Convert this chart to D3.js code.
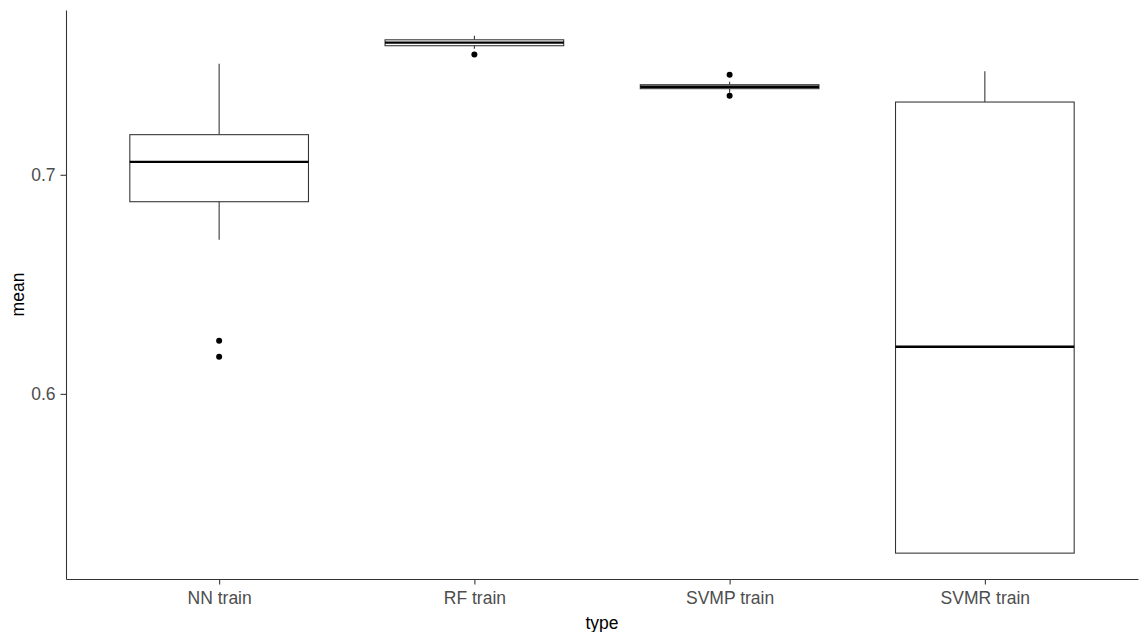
<!DOCTYPE html>
<html>
<head>
<meta charset="utf-8">
<script src="https://cdn.jsdelivr.net/npm/d3@7"></script>
<style>
  html, body { margin: 0; padding: 0; background: #fff; }
  svg { display: block; font-family: "Liberation Sans", Arial, sans-serif; }
</style>
</head>
<body>
<svg id="chart" width="1139" height="632"></svg>
<script>
// Model types on the x axis
const categories = ["NN train", "RF train", "SVMP train", "SVMR train"];
// Box summaries per type: lower whisker, Q1, median, Q3, upper whisker
const whiskerLow = [0.6703, 0.7575, 0.7374, 0.5273];
const q1 = [0.6877, 0.7589, 0.7393, 0.5273];
const median = [0.7059, 0.7603, 0.7402, 0.6215];
const q3 = [0.7183, 0.7616, 0.7411, 0.7332];
const whiskerHigh = [0.7507, 0.7634, 0.7425, 0.7472];
// Points beyond the whiskers
const outlierType = ["NN train", "NN train", "RF train", "SVMP train", "SVMP train"];
const outlierValue = [0.6242, 0.6169, 0.7549, 0.7457, 0.7361];
// Y axis ticks
const yTicks = [0.6, 0.7];

const svg = d3.select("#chart");
const margin = { top: 10, right: 1, bottom: 53, left: 66 };
const W = 1139, H = 632;
const innerW = W - margin.left - margin.right;
const innerH = H - margin.top - margin.bottom;

const boxes = categories.map((c, i) => ({
  type: c, lo: whiskerLow[i], q1: q1[i], med: median[i], q3: q3[i], hi: whiskerHigh[i]
}));
const outliers = outlierType.map((t, i) => ({ type: t, value: outlierValue[i] }));

// Continuous y range expanded by 5% on each side
const allVals = whiskerLow.concat(whiskerHigh, outlierValue);
const yMin = d3.min(allVals), yMax = d3.max(allVals);
const pad = (yMax - yMin) * 0.05;
const y = d3.scaleLinear().domain([yMin - pad, yMax + pad]).range([innerH, 0]);

// Discrete x with 0.6 unit expansion on both ends
const x = d3.scalePoint().domain(categories).range([0, innerW]).padding(0.6);
const step = x.step();
const boxW = step * 0.7;

const g = svg.append("g").attr("transform", `translate(${margin.left},${margin.top})`);

// Whiskers
const lineCol = "#333333";
g.selectAll(".whisker-hi").data(boxes).join("line")
  .attr("x1", d => x(d.type)).attr("x2", d => x(d.type))
  .attr("y1", d => y(d.q3)).attr("y2", d => y(d.hi))
  .attr("stroke", lineCol).attr("stroke-width", 1.07);
g.selectAll(".whisker-lo").data(boxes).join("line")
  .attr("x1", d => x(d.type)).attr("x2", d => x(d.type))
  .attr("y1", d => y(d.q1)).attr("y2", d => y(d.lo))
  .attr("stroke", lineCol).attr("stroke-width", 1.07);

// Boxes
g.selectAll(".box").data(boxes).join("rect")
  .attr("x", d => x(d.type) - boxW / 2)
  .attr("width", boxW)
  .attr("y", d => y(d.q3))
  .attr("height", d => y(d.q1) - y(d.q3))
  .attr("fill", "#fff").attr("stroke", lineCol).attr("stroke-width", 1.07);

// Medians
g.selectAll(".median").data(boxes).join("line")
  .attr("x1", d => x(d.type) - boxW / 2).attr("x2", d => x(d.type) + boxW / 2)
  .attr("y1", d => y(d.med)).attr("y2", d => y(d.med))
  .attr("stroke", "#000").attr("stroke-width", 2.4);

// Outliers
g.selectAll(".outlier").data(outliers).join("circle")
  .attr("cx", d => x(d.type)).attr("cy", d => y(d.value))
  .attr("r", 3).attr("fill", "#000");

// Axes
const xAxis = g.append("g").attr("transform", `translate(0,${innerH})`)
  .call(d3.axisBottom(x).tickSize(5.5).tickPadding(7.5).tickSizeOuter(0));
const yAxis = g.append("g")
  .call(d3.axisLeft(y).tickValues(yTicks).tickFormat(d3.format(".1f")).tickSize(5.5).tickPadding(5).tickSizeOuter(0));

[xAxis, yAxis].forEach(a => {
  a.select(".domain").attr("stroke", "#333").attr("stroke-width", 1.07);
  a.selectAll(".tick line").attr("stroke", "#333").attr("stroke-width", 1.07);
  a.selectAll(".tick text").attr("fill", "#4d4d4d").style("font-size", "17.5px")
    .style("font-family", "'Liberation Sans', Arial, sans-serif");
});

// Axis titles
svg.append("text")
  .attr("x", margin.left + innerW / 2).attr("y", 629)
  .attr("text-anchor", "middle").style("font-size", "17.5px").attr("fill", "#000")
  .text("type");
svg.append("text")
  .attr("transform", `translate(23.5,${margin.top + innerH / 2}) rotate(-90)`)
  .attr("text-anchor", "middle").style("font-size", "17.5px").attr("fill", "#000")
  .text("mean");
</script>
</body>
</html>
